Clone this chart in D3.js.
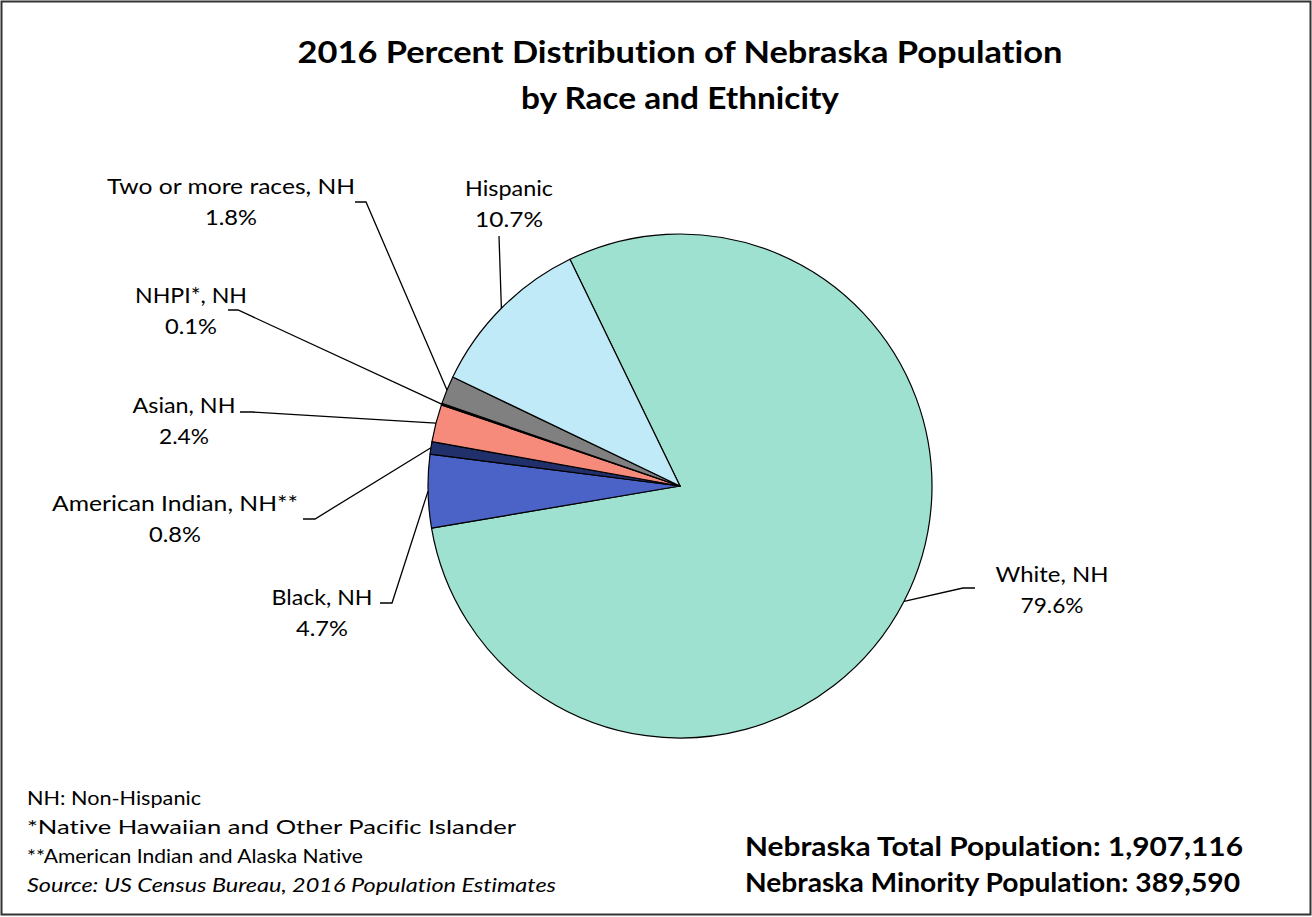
<!DOCTYPE html>
<html>
<head>
<meta charset="utf-8">
<script src="https://cdn.jsdelivr.net/npm/d3@7"></script>
<style>
  html, body { margin: 0; padding: 0; background: #fff; }
  svg { display: block; }
  text { font-family: Lato, "Open Sans", sans-serif; fill: #000; font-variant-ligatures: none; }
</style>
</head>
<body>
<svg id="chart" width="1312" height="917"></svg>
<script>
// Nebraska 2016 population shares (percent), drawn clockwise from the White slice
const categories = ["White, NH", "Black, NH", "American Indian, NH**", "Asian, NH", "NHPI*, NH", "Two or more races, NH", "Hispanic"];
const percents   = [79.6, 4.7, 0.8, 2.4, 0.1, 1.8, 10.7];
const colors     = ["#9fe1d0", "#4b63c6", "#21306b", "#f68b7c", "#111111", "#808080", "#c1eaf8"];

const titleLines = ["2016 Percent Distribution of Nebraska Population", "by Race and Ethnicity"];
const footnotes  = ["NH: Non-Hispanic", "*Native Hawaiian and Other Pacific Islander", "**American Indian and Alaska Native", "Source: US Census Bureau, 2016  Population Estimates"];
const totals     = ["Nebraska Total Population: 1,907,116", "Nebraska Minority Population: 389,590"];

// Label placement: centre x, first-line baseline, widths of both lines, leader path start points
const labelLayout = [
  { cx: 1052, y: 582, w1: 113, w2: 63, lead: [[975, 588], [963, 588]] },
  { cx: 322,  y: 605, w1: 101, w2: 52, lead: [[380, 603], [392, 603]] },
  { cx: 175,  y: 511, w1: 246, w2: 52, lead: [[303, 519], [315, 519]] },
  { cx: 184,  y: 413, w1: 103, w2: 50, lead: [[240, 412], [252, 412]] },
  { cx: 191,  y: 303, w1: 112, w2: 52, lead: [[228, 310], [238, 310]] },
  { cx: 231,  y: 194, w1: 248, w2: 52, lead: [[355, 202], [366, 202]] },
  { cx: 509,  y: 196, w1: 88,  w2: 68, lead: [[499, 236]] }
];

const svg = d3.select("#chart");

// outer frame
svg.append("rect")
  .attr("x", 1.5).attr("y", 1.5).attr("width", 1309).attr("height", 913)
  .attr("fill", "#fff").attr("stroke", "#333").attr("stroke-width", 2);

function fitText(sel, width) {
  sel.attr("textLength", width).attr("lengthAdjust", "spacingAndGlyphs");
}

// title
titleLines.forEach((t, i) => {
  const widths = [765, 318];
  svg.append("text")
    .attr("x", 680).attr("y", 63 + i * 46)
    .attr("text-anchor", "middle")
    .attr("font-size", 31).attr("font-weight", 700)
    .text(t).call(fitText, widths[i]);
});

// pie
const cx = 680, cy = 486, r = 252;
const startA = -25.9 * Math.PI / 180;
const data = categories.map((c, i) => ({ name: c, value: percents[i], color: colors[i], layout: labelLayout[i] }));
const pie = d3.pie().sort(null).value(d => d.value).startAngle(startA).endAngle(startA + 2 * Math.PI);
const arc = d3.arc().innerRadius(0).outerRadius(r);
const arcs = pie(data);

const g = svg.append("g").attr("transform", `translate(${cx},${cy})`);
g.selectAll("path.slice").data(arcs).join("path")
  .attr("class", "slice")
  .attr("d", arc)
  .attr("fill", d => d.data.color)
  .attr("stroke", "#000").attr("stroke-width", 1.2).attr("stroke-linejoin", "round");

// leader lines from each label to the slice's outer mid-point
const leaders = svg.append("g");
arcs.forEach(a => {
  const mid = (a.startAngle + a.endAngle) / 2;
  const px = cx + r * Math.sin(mid), py = cy - r * Math.cos(mid);
  const pts = a.data.layout.lead.concat([[px, py]]);
  leaders.append("path")
    .attr("d", d3.line()(pts))
    .attr("fill", "none").attr("stroke", "#000").attr("stroke-width", 1.3);
});

// data labels
const labels = svg.append("g");
arcs.forEach(a => {
  const L = a.data.layout;
  labels.append("text")
    .attr("x", L.cx).attr("y", L.y).attr("text-anchor", "middle").attr("font-size", 21)
    .text(a.data.name).call(fitText, L.w1);
  labels.append("text")
    .attr("x", L.cx).attr("y", L.y + 31).attr("text-anchor", "middle").attr("font-size", 21)
    .text(d3.format(".1f")(a.data.value) + "%").call(fitText, L.w2);
});

// footnotes
const footWidths = [174, 489, 336, 529];
footnotes.forEach((t, i) => {
  svg.append("text")
    .attr("x", 27).attr("y", 805 + i * 29)
    .attr("font-size", 19)
    .attr("font-style", i === 3 ? "italic" : "normal")
    .text(t).call(fitText, footWidths[i]);
});

// population totals
const totWidths = [498, 495];
totals.forEach((t, i) => {
  svg.append("text")
    .attr("x", 745).attr("y", 856 + i * 36)
    .attr("font-size", 26).attr("font-weight", 700)
    .text(t).call(fitText, totWidths[i]);
});
</script>
</body>
</html>
